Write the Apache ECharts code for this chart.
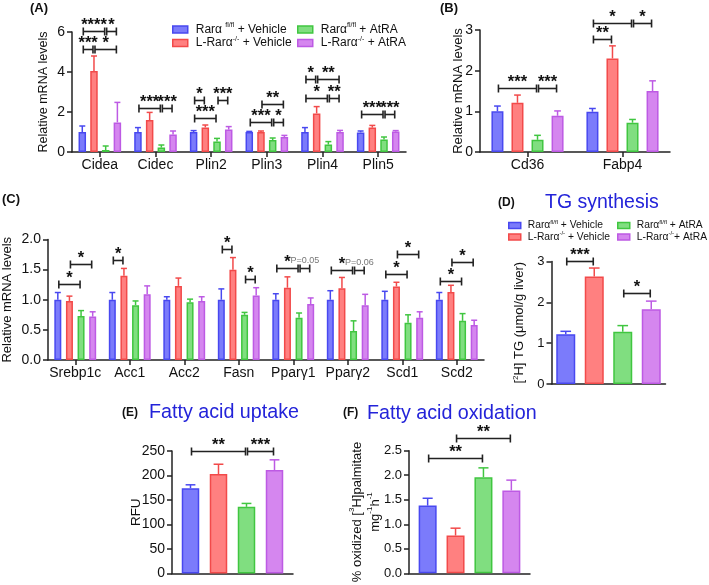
<!DOCTYPE html>
<html><head><meta charset="utf-8">
<script src="https://cdn.jsdelivr.net/npm/echarts@6/dist/echarts.min.js"></script>
<style>html,body{margin:0;padding:0;background:#fff}#c{width:709px;height:585px}</style>
</head><body><div id="c"></div>
<script>
// ---------- data ----------
const groups = ['Rarα fl/fl + Vehicle', 'L-Rarα-/- + Vehicle', 'Rarα fl/fl + AtRA', 'L-Rarα-/- + AtRA'];

// Panel A
const catsA = ['Cidea', 'Cidec', 'Plin2', 'Plin3', 'Plin4', 'Plin5'];
const meanA1 = [1.0, 1.0, 1.0, 1.0, 1.0, 0.98];
const meanA2 = [4.05, 1.6, 1.23, 1.0, 1.93, 1.22];
const meanA3 = [0.1, 0.22, 0.52, 0.6, 0.37, 0.62];
const meanA4 = [1.48, 0.88, 1.12, 0.75, 1.0, 1.02];
const semA1 = [0.3, 0.22, 0.07, 0.03, 0.22, 0.07];
const semA2 = [0.75, 0.38, 0.12, 0.05, 0.34, 0.11];
const semA3 = [0.2, 0.13, 0.16, 0.1, 0.15, 0.13];
const semA4 = [1.0, 0.17, 0.15, 0.08, 0.08, 0.05];
const bracketsA = [
  [0, 0, 2, 6.05, '****'], [0, 2, 3, 6.05, '*'], [0, 0, 1, 5.15, '***'], [0, 1, 3, 5.15, '*'],
  [1, 0, 2, 2.2, '***'], [1, 2, 3, 2.2, '***'],
  [2, 0, 1, 2.6, '*'], [2, 2, 3, 2.6, '***'], [2, 0, 2, 1.7, '***'],
  [3, 1, 3, 2.4, '**'], [3, 0, 2, 1.5, '***'], [3, 2, 3, 1.5, '*'],
  [4, 0, 1, 3.65, '*'], [4, 1, 3, 3.65, '**'], [4, 0, 2, 2.7, '*'], [4, 2, 3, 2.7, '**'],
  [5, 0, 2, 1.9, '***'], [5, 2, 3, 1.9, '***']
];

// Panel B
const catsB = ['Cd36', 'Fabp4'];
const meanB1 = [1.0, 0.99];
const meanB2 = [1.21, 2.3];
const meanB3 = [0.3, 0.72];
const meanB4 = [0.89, 1.5];
const semB1 = [0.13, 0.08];
const semB2 = [0.19, 0.31];
const semB3 = [0.11, 0.08];
const semB4 = [0.12, 0.25];
const bracketsB = [
  [0, 0, 2, 1.58, '***'], [0, 2, 3, 1.58, '***'],
  [1, 0, 2, 3.18, '*'], [1, 2, 3, 3.18, '*'], [1, 0, 1, 2.77, '**']
];

// Panel C
const catsC = ['Srebp1c', 'Acc1', 'Acc2', 'Fasn', 'Pparγ1', 'Pparγ2', 'Scd1', 'Scd2'];
const meanC1 = [1.0, 1.0, 1.0, 1.0, 1.0, 1.0, 1.0, 1.0];
const meanC2 = [0.98, 1.4, 1.23, 1.5, 1.2, 1.19, 1.22, 1.13];
const meanC3 = [0.73, 0.91, 0.96, 0.75, 0.7, 0.48, 0.62, 0.65];
const meanC4 = [0.72, 1.09, 0.98, 1.07, 0.93, 0.91, 0.7, 0.58];
const semC1 = [0.12, 0.12, 0.05, 0.18, 0.1, 0.15, 0.14, 0.12];
const semC2 = [0.08, 0.12, 0.13, 0.2, 0.18, 0.18, 0.07, 0.11];
const semC3 = [0.09, 0.07, 0.05, 0.04, 0.08, 0.17, 0.13, 0.12];
const semC4 = [0.08, 0.14, 0.07, 0.13, 0.1, 0.18, 0.1, 0.08];
const bracketsC = [
  [0, 0, 2, 1.26, '*'], [0, 1, 3, 1.6, '*'],
  [1, 0, 1, 1.66, '*'],
  [3, 0, 1, 1.84, '*'], [3, 2, 3, 1.34, '*'],
  [4, 0, 2, 1.52, '*'], [4, 2, 3, 1.52, 'P=0.05'],
  [5, 0, 2, 1.49, '*'], [5, 2, 3, 1.49, 'P=0.06'],
  [6, 0, 2, 1.43, '*'], [6, 1, 3, 1.76, '*'],
  [7, 0, 2, 1.31, '*'], [7, 1, 3, 1.63, '*']
];

// Panel D – TG synthesis
const catsD = [''];
const meanD = [[1.22], [2.63], [1.28], [1.83]];
const semD = [[0.07], [0.21], [0.15], [0.2]];
const bracketsD = [[0, 0, 1, 3.01, '***'], [0, 2, 3, 2.22, '*']];

// Panel E – Fatty acid uptake
const catsE = [''];
const meanE = [[174], [203], [136], [211]];
const semE = [[7], [20], [7], [21]];
const bracketsE = [[0, 0, 2, 249, '**'], [0, 2, 3, 249, '***']];

// Panel F – Fatty acid oxidation
const catsF = [''];
const meanF = [[1.38], [0.77], [1.96], [1.69]];
const semF = [[0.15], [0.15], [0.19], [0.21]];
const bracketsF = [[0, 0, 2, 2.35, '**'], [0, 1, 3, 2.75, '**']];

// ---------- style ----------
const FF = '"Liberation Sans", Arial, sans-serif';
const fills = ['#7b7bfb', '#ff8080', '#80de80', '#d586ef'];
const strokes = ['#4848f0', '#f24a4a', '#40c640', '#bd5ae4'];
const AX = '#222';
const TITLE = '#2323d9';

const panels = [
  { cats: catsA, means: [meanA1, meanA2, meanA3, meanA4], sems: [semA1, semA2, semA3, semA4], br: bracketsA,
    grid: { left: 72, top: 32, width: 334, height: 120 }, max: 6, interval: 2, dec: 0, yfs: 14, xfs: 14,
    name: 'Relative mRNA levels', nameGap: 20, nameFs: 12.5, nlh: 16, bw: 7.5, gap: 0.56, ticksX: true },
  { cats: catsB, means: [meanB1, meanB2, meanB3, meanB4], sems: [semB1, semB2, semB3, semB4], br: bracketsB,
    grid: { left: 480, top: 30, width: 190, height: 122 }, max: 3, interval: 1, dec: 0, yfs: 14, xfs: 14,
    name: 'Relative mRNA levels', nameGap: 14, nameFs: 13, nlh: 16, bw: 12, gap: 0.67, ticksX: true },
  { cats: catsC, means: [meanC1, meanC2, meanC3, meanC4], sems: [semC1, semC2, semC3, semC4], br: bracketsC,
    grid: { left: 48, top: 239.5, width: 436, height: 120.5 }, max: 2, interval: 0.5, dec: 1, yfs: 14, xfs: 14,
    name: 'Relative mRNA levels', nameGap: 33, nameFs: 13, nlh: 15, bw: 7, gap: 0.66, ticksX: true },
  { cats: catsD, means: meanD, sems: semD, br: bracketsD,
    grid: { left: 551.5, top: 261.5, width: 114, height: 122.5 }, max: 3, interval: 1, dec: 0, yfs: 13, xfs: 13,
    name: '{n|[}{s|2}{n|H] TG (μmol/g liver)}', nameGap: 24, nameFs: 13, nlh: 16, bw: 19, gap: 0.5, ticksX: false },
  { cats: catsE, means: meanE, sems: semE, br: bracketsE,
    grid: { left: 172, top: 451, width: 121, height: 122.5 }, max: 250, interval: 50, dec: 0, yfs: 14, xfs: 13,
    name: 'RFU', nameGap: 28, nameFs: 13.5, nlh: 16, bw: 17.5, gap: 0.6, ticksX: false },
  { cats: catsF, means: meanF, sems: semF, br: bracketsF,
    grid: { left: 409, top: 450.7, width: 121, height: 122.6 }, max: 2.5, interval: 0.5, dec: 1, yfs: 13, xfs: 13,
    name: '{n|% oxidized [}{s|3}{n|H]palmitate}\n{n|mg}{s|-1}{n|h}{s|-1}', nameGap: 25, nameFs: 13, nlh: 18, bw: 18, gap: 0.55, ticksX: false }
];

function errRender(bw, gap) {
  const step = bw * (1 + gap);
  return function (params, api) {
    const cat = api.value(0), g = api.value(1), m = api.value(2), s = api.value(3);
    const b = api.coord([cat, m]);
    const t = api.coord([cat, m + s]);
    const x = b[0] + (g - 1.5) * step;
    const cap = Math.max(3, bw * 0.28);
    const st = { stroke: strokes[g], lineWidth: 1.5 };
    return { type: 'group', children: [
      { type: 'line', shape: { x1: x, y1: b[1], x2: x, y2: t[1] }, style: st },
      { type: 'line', shape: { x1: x - cap, y1: t[1], x2: x + cap, y2: t[1] }, style: st }
    ]};
  };
}

function brRender(bw, gap, labels) {
  const step = bw * (1 + gap);
  return function (params, api) {
    const cat = api.value(0), ga = api.value(1), gb = api.value(2), yv = api.value(3);
    const c = api.coord([cat, yv]);
    const xa = c[0] + (ga - 1.5) * step + 1;
    const xb = c[0] + (gb - 1.5) * step - 1;
    const y = Math.round(c[1]) + 0.5;
    const lab = labels[params.dataIndex];
    const isP = lab.charAt(0) === 'P';
    const h = 4;
    const st = { stroke: '#222', lineWidth: 1.6 };
    return { type: 'group', children: [
      { type: 'line', shape: { x1: xa, y1: y, x2: xb, y2: y }, style: st },
      { type: 'line', shape: { x1: xa, y1: y - h, x2: xa, y2: y + h }, style: st },
      { type: 'line', shape: { x1: xb, y1: y - h, x2: xb, y2: y + h }, style: st },
      { type: 'text', x: (xa + xb) / 2, y: isP ? y - 7.5 : y - 6,
        style: { text: lab, align: 'center', verticalAlign: 'middle', textAlign: 'center', textVerticalAlign: 'middle',
          font: isP ? '9px ' + FF : 'bold 16.5px ' + FF, fill: isP ? '#777' : '#111' } }
    ]};
  };
}

const grids = [], xAxes = [], yAxes = [], series = [];
panels.forEach((p, pi) => {
  grids.push(Object.assign({ outerBoundsMode: 'none', containLabel: false }, p.grid));
  xAxes.push({
    type: 'category', gridIndex: pi, data: p.cats,
    axisLine: { lineStyle: { color: AX, width: 1.5 } },
    axisTick: { show: p.ticksX, alignWithLabel: true, interval: 0, length: 5, lineStyle: { color: AX, width: 1.5 } },
    axisLabel: { show: p.ticksX, interval: 0, color: '#111', fontSize: p.xfs, fontFamily: FF, margin: 6 }
  });
  yAxes.push({
    type: 'value', gridIndex: pi, min: 0, max: p.max, interval: p.interval,
    splitLine: { show: false },
    axisLine: { show: true, lineStyle: { color: AX, width: 1.5 } },
    axisTick: { show: true, length: 5, lineStyle: { color: AX, width: 1.5 } },
    axisLabel: { color: '#111', fontSize: p.yfs, fontFamily: FF, margin: 7,
      formatter: v => v.toFixed(p.dec) },
    name: p.name, nameLocation: 'middle', nameGap: p.nameGap, nameMoveOverlap: false,
    nameTextStyle: { color: '#111', fontSize: p.nameFs, fontFamily: FF, lineHeight: p.nlh,
      rich: { n: { fontSize: p.nameFs, fontFamily: FF, color: '#111', lineHeight: p.nlh },
              s: { fontSize: 8, fontFamily: FF, color: '#111', verticalAlign: 'top' } } }
  });
  for (let g = 0; g < 4; g++) {
    series.push({
      type: 'bar', name: groups[g], xAxisIndex: pi, yAxisIndex: pi, data: p.means[g],
      barWidth: p.bw, barGap: (p.gap * 100) + '%',
      itemStyle: { color: fills[g], borderColor: strokes[g], borderWidth: 1.5 }, z: 3
    });
  }
  const ed = [];
  for (let g = 0; g < 4; g++) p.cats.forEach((c, i) => ed.push([i, g, p.means[g][i], p.sems[g][i]]));
  series.push({ type: 'custom', xAxisIndex: pi, yAxisIndex: pi, data: ed, encode: { x: 0, y: 2 },
    renderItem: errRender(p.bw, p.gap), clip: false, z: 2, silent: true });
  const bd = p.br.map(b => [b[0], b[1], b[2], b[3]]);
  const labs = p.br.map(b => b[4]);
  series.push({ type: 'custom', xAxisIndex: pi, yAxisIndex: pi, data: bd, encode: { x: 0, y: 3 },
    renderItem: brRender(p.bw, p.gap, labs), clip: false, z: 5, silent: true });
});

const richA = { n: { fontSize: 12, fontFamily: FF, color: '#111', lineHeight: 15 },
                s: { fontSize: 7, fontFamily: FF, color: '#111', verticalAlign: 'top' } };
const richD = { n: { fontSize: 10.3, fontFamily: FF, color: '#111', lineHeight: 13 },
                s: { fontSize: 6, fontFamily: FF, color: '#111', verticalAlign: 'top' } };
const legA = {
  'Rarα fl/fl + Vehicle': '{n|Rarα }{s|fl/fl}{n| + Vehicle}',
  'L-Rarα-/- + Vehicle': '{n|L-Rarα}{s|-/-}{n| + Vehicle}',
  'Rarα fl/fl + AtRA': '{n|Rarα}{s|fl/fl}{n| + AtRA}',
  'L-Rarα-/- + AtRA': '{n|L-Rarα}{s|-/-}{n| + AtRA}'
};
const legD = {
  'Rarα fl/fl + Vehicle': '{n|Rarα}{s|fl/fl}{n| + Vehicle}',
  'L-Rarα-/- + Vehicle': '{n|L-Rarα}{s|-/-}{n| + Vehicle}',
  'Rarα fl/fl + AtRA': '{n|Rarα}{s|fl/fl}{n| + AtRA}',
  'L-Rarα-/- + AtRA': '{n|L-Rarα}{s|-/-}{n|+ AtRA}'
};
function mkLegend(names, left, top, map, rich, iw, ih, gapV, pad) {
  return {
    data: names.map((n) => { const g = groups.indexOf(n); return { name: n, icon: 'rect',
      itemStyle: { color: fills[g], borderColor: strokes[g], borderWidth: 1.5 } }; }),
    orient: 'vertical', left: left, top: top, itemWidth: iw, itemHeight: ih, itemGap: gapV,
    padding: 0, selectedMode: false,
    formatter: n => map[n],
    textStyle: { rich: rich, padding: [0, 0, 0, pad] }
  };
}

const option = {
  animation: false,
  tooltip: { show: false },
  grid: grids, xAxis: xAxes, yAxis: yAxes, series: series,
  legend: [
    mkLegend([groups[0], groups[1]], 172, 22, legA, richA, 15, 7, 0, 3),
    mkLegend([groups[2], groups[3]], 297, 22, legA, richA, 15, 7, 0, 3),
    mkLegend([groups[0], groups[1]], 508, 219, legD, richD, 12, 6, 0, 2),
    mkLegend([groups[2], groups[3]], 617, 219, legD, richD, 12, 6, 0, 2)
  ],
  graphic: [
    { type: 'text', x: 30, y: 8, style: { text: '(A)', font: 'bold 13px ' + FF, fill: '#111', verticalAlign: 'middle', textVerticalAlign: 'middle' } },
    { type: 'text', x: 440, y: 8, style: { text: '(B)', font: 'bold 13px ' + FF, fill: '#111', verticalAlign: 'middle', textVerticalAlign: 'middle' } },
    { type: 'text', x: 2, y: 199, style: { text: '(C)', font: 'bold 13px ' + FF, fill: '#111', verticalAlign: 'middle', textVerticalAlign: 'middle' } },
    { type: 'text', x: 498, y: 203, style: { text: '(D)', font: 'bold 12px ' + FF, fill: '#111', verticalAlign: 'middle', textVerticalAlign: 'middle' } },
    { type: 'text', x: 122, y: 413, style: { text: '(E)', font: 'bold 12px ' + FF, fill: '#111', verticalAlign: 'middle', textVerticalAlign: 'middle' } },
    { type: 'text', x: 343, y: 413, style: { text: '(F)', font: 'bold 12px ' + FF, fill: '#111', verticalAlign: 'middle', textVerticalAlign: 'middle' } },
    { type: 'text', x: 545, y: 203, style: { text: 'TG synthesis', font: '19.5px ' + FF, fill: TITLE, verticalAlign: 'middle', textVerticalAlign: 'middle' } },
    { type: 'text', x: 149, y: 413, style: { text: 'Fatty acid uptake', font: '19.7px ' + FF, fill: TITLE, verticalAlign: 'middle', textVerticalAlign: 'middle' } },
    { type: 'text', x: 367, y: 414, style: { text: 'Fatty acid oxidation', font: '19.7px ' + FF, fill: TITLE, verticalAlign: 'middle', textVerticalAlign: 'middle' } }
  ]
};
const chart = echarts.init(document.getElementById('c'), null, { renderer: 'canvas' });
chart.setOption(option);
</script></body></html>
